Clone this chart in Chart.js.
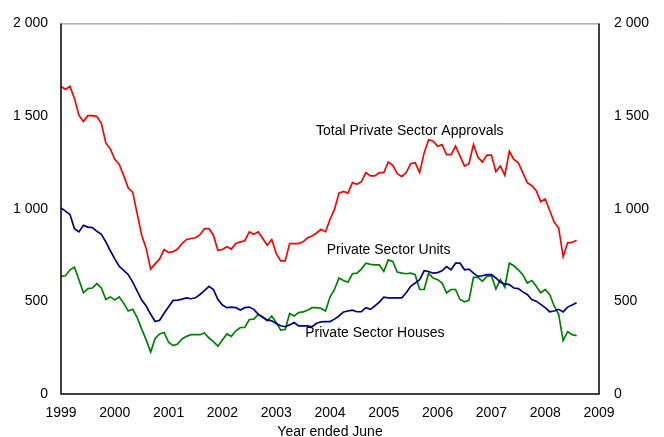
<!DOCTYPE html>
<html>
<head>
<meta charset="utf-8">
<script src="https://cdn.jsdelivr.net/npm/chart.js@4/dist/chart.umd.min.js"></script>
<style>
  html, body { margin: 0; padding: 0; background: #fff; }
  #wrap { width: 664px; height: 437px; }
</style>
</head>
<body>
<div id="wrap"><canvas id="approvalsChart" width="664" height="437"></canvas></div>
<script>
// monthly series, Jan 1999 to Aug 2008
const startYear = 1999;
const totalApprovals = [
    1660, 1644, 1660, 1595, 1505, 1470, 1502, 1502, 1497, 1461,
    1355, 1323, 1266, 1239, 1177, 1111, 1088, 972, 857, 786,
    674, 702, 729, 780, 763, 768, 782, 812, 834, 839,
    843, 860, 892, 892, 857, 775, 780, 795, 782, 812,
    821, 827, 875, 862, 875, 839, 803, 834, 759, 718,
    718, 812, 812, 812, 821, 843, 853, 869, 889, 875,
    942, 996, 1084, 1093, 1084, 1141, 1132, 1145, 1195, 1177,
    1177, 1195, 1195, 1252, 1234, 1189, 1173, 1195, 1243, 1248,
    1195, 1301, 1372, 1364, 1337, 1346, 1292, 1292, 1337, 1284,
    1230, 1243, 1346, 1278, 1252, 1289, 1289, 1200, 1230, 1180,
    1310, 1266, 1248, 1195, 1141, 1124, 1097, 1038, 1052, 990,
    928, 896, 741, 816, 818, 830
];
const privateUnits = [
    1004, 987, 969, 892, 875, 910, 901, 898, 878, 862,
    821, 773, 729, 688, 667, 644, 604, 555, 507, 475,
    430, 391, 398, 436, 471, 505, 507, 512, 519, 514,
    519, 537, 558, 581, 564, 510, 480, 466, 469, 466,
    453, 466, 469, 457, 430, 416, 400, 395, 380, 368,
    363, 373, 386, 368, 368, 368, 363, 382, 389, 391,
    391, 404, 421, 443, 448, 452, 444, 444, 466, 457,
    475, 496, 523, 519, 519, 519, 519, 546, 581, 599,
    617, 665, 661, 652, 655, 665, 688, 670, 706, 706,
    670, 674, 652, 635, 638, 644, 644, 626, 603, 594,
    590, 572, 569, 551, 537, 510, 501, 484, 466, 444,
    448, 457, 443, 469, 480, 492
];
const privateHouses = [
    635, 638, 670, 684, 617, 546, 569, 572, 596, 572,
    510, 524, 507, 524, 489, 448, 457, 412, 350, 292,
    226, 300, 324, 332, 279, 261, 270, 297, 311, 320,
    320, 320, 329, 302, 283, 258, 292, 324, 311, 341,
    359, 359, 402, 404, 430, 412, 395, 421, 386, 345,
    348, 434, 421, 439, 443, 452, 466, 466, 462, 448,
    523, 564, 626, 613, 603, 649, 652, 674, 706, 700,
    697, 697, 661, 724, 715, 658, 652, 649, 652, 644,
    564, 564, 652, 626, 617, 599, 546, 564, 564, 510,
    498, 505, 629, 629, 608, 635, 638, 567, 617, 576,
    706, 692, 670, 644, 599, 612, 581, 546, 564, 537,
    475, 430, 288, 336, 320, 315
];
const yearTicks = [1999, 2000, 2001, 2002, 2003, 2004, 2005, 2006, 2007, 2008, 2009];
const valueTicks = [0, 500, 1000, 1500, 2000];

// series labels written on the plot (year, value)
const seriesLabels = [
    { text: "Total Private Sector Approvals", x: 2003.74, y: 1419 },
    { text: "Private Sector Units", x: 2003.94, y: 779 },
    { text: "Private Sector Houses", x: 2003.54, y: 331 }
];

function toPoints(values) {
    return values.map((v, i) => ({ x: startYear + i / 12, y: v }));
}

function fmt(v) {
    return v >= 1000 ? Math.floor(v / 1000) + " " + String(v % 1000).padStart(3, "0") : String(v);
}

const font = { family: "'Liberation Sans', Arial, sans-serif", size: 14 };

const frameAndLabels = {
    id: "frameAndLabels",
    afterDatasetsDraw(chart) {
        const { ctx, chartArea: a, scales } = chart;
        ctx.save();
        ctx.lineWidth = 1;
        ctx.strokeStyle = "#808080";
        ctx.beginPath();
        ctx.moveTo(a.left, a.top + 0.5);
        ctx.lineTo(a.right, a.top + 0.5);
        ctx.stroke();
        ctx.strokeStyle = "#000";
        ctx.lineWidth = 1.5;
        ctx.beginPath();
        ctx.moveTo(a.left, a.top);
        ctx.lineTo(a.left, a.bottom);
        ctx.lineTo(a.right, a.bottom);
        ctx.lineTo(a.right, a.top);
        ctx.stroke();

        ctx.fillStyle = "#000";
        ctx.font = font.size + "px " + font.family;
        ctx.textAlign = "left";
        ctx.textBaseline = "middle";
        seriesLabels.forEach(l => {
            ctx.fillText(l.text, scales.x.getPixelForValue(l.x), scales.y.getPixelForValue(l.y));
        });
        ctx.restore();
    }
};

const ctx = document.getElementById("approvalsChart").getContext("2d");

new Chart(ctx, {
    type: "line",
    data: {
        datasets: [
            { label: "Total Private Sector Approvals", data: toPoints(totalApprovals), borderColor: "#ff0000" },
            { label: "Private Sector Units", data: toPoints(privateUnits), borderColor: "#000080" },
            { label: "Private Sector Houses", data: toPoints(privateHouses), borderColor: "#008000" }
        ]
    },
    options: {
        responsive: false,
        animation: false,
        layout: { padding: { top: 19, left: 0, right: 0, bottom: 0 } },
        elements: {
            line: { borderWidth: 1.7, tension: 0, fill: false },
            point: { radius: 0 }
        },
        plugins: {
            legend: { display: false },
            tooltip: { enabled: false }
        },
        scales: {
            x: {
                type: "linear",
                min: 1999,
                max: 2009,
                afterFit(scale) { scale.height = 43; },
                afterBuildTicks(scale) { scale.ticks = yearTicks.map(v => ({ value: v })); },
                grid: { display: false, drawTicks: false },
                border: { display: false },
                ticks: { font: font, color: "#000", padding: 11, maxRotation: 0, callback: v => String(v) },
                title: {
                    display: true, text: "Year ended June", color: "#000",
                    font: { family: font.family, size: 14, lineHeight: 1 },
                    padding: { top: 0, bottom: -2 }
                }
            },
            y: {
                position: "left",
                min: 0,
                max: 2000,
                afterFit(scale) { scale.width = 61; },
                afterBuildTicks(scale) { scale.ticks = valueTicks.map(v => ({ value: v })); },
                grid: { display: false, drawTicks: false },
                border: { display: false },
                ticks: { font: font, color: "#000", padding: 13, callback: v => fmt(v) }
            },
            y2: {
                position: "right",
                min: 0,
                max: 2000,
                afterFit(scale) { scale.width = 65; },
                afterBuildTicks(scale) { scale.ticks = valueTicks.map(v => ({ value: v })); },
                grid: { display: false, drawTicks: false },
                border: { display: false },
                ticks: { font: font, color: "#000", padding: 15, callback: v => fmt(v) }
            }
        }
    },
    plugins: [frameAndLabels]
});
</script>
</body>
</html>
